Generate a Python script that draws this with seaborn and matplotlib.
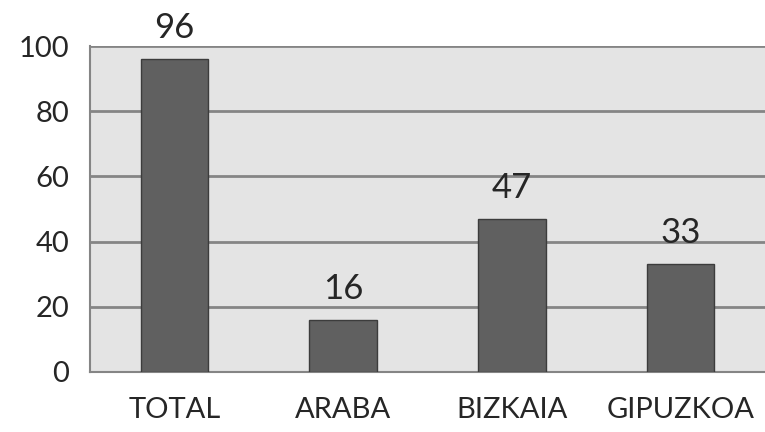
import matplotlib
matplotlib.use("Agg")
import matplotlib.pyplot as plt
import seaborn as sns
import pandas as pd

categories = ["TOTAL", "ARABA", "BIZKAIA", "GIPUZKOA"]
values = [96, 16, 47, 33]
y_ticks = [0, 20, 40, 60, 80, 100]


def main():
    sns.set_style("white")
    plt.rcParams["font.family"] = ["Lato", "DejaVu Sans"]

    df = pd.DataFrame({"zona": categories, "valor": values})

    fig = plt.figure(figsize=(7.65, 4.32), dpi=100)
    ax = fig.add_axes([0.1176, 0.1389, 0.8824, 0.7546])
    ax.set_facecolor("#e4e4e4")

    sns.barplot(data=df, x="zona", y="valor", color="#606060", saturation=1,
                width=0.4, edgecolor="#3c3c3c", linewidth=1, ax=ax, zorder=3)

    ax.set_ylim(0, 100)
    ax.set_xlim(-0.5, len(categories) - 0.5)
    ax.set_yticks(y_ticks)
    ax.yaxis.grid(True, color="#858585", linewidth=2, zorder=0)
    ax.set_axisbelow(True)

    # category boundaries as x tick marks
    ax.set_xticks([i - 0.5 for i in range(len(categories) + 1)], minor=True)
    ax.tick_params(axis="x", which="minor", length=10, width=1.5, color="#858585", direction="out")
    ax.tick_params(axis="x", which="major", length=0, labelsize=21, pad=18)
    ax.tick_params(axis="y", length=10, width=1.5, color="#858585", labelsize=21, pad=5)

    for side in ["top", "right"]:
        ax.spines[side].set_visible(False)
    for side in ["left", "bottom"]:
        ax.spines[side].set_color("#858585")
        ax.spines[side].set_linewidth(1.5)

    ax.set_xlabel("")
    ax.set_ylabel("")

    ax.bar_label(ax.containers[0], labels=[str(v) for v in values], padding=11, fontsize=25)

    fig.savefig("out.png", dpi=100)


if __name__ == "__main__":
    main()
